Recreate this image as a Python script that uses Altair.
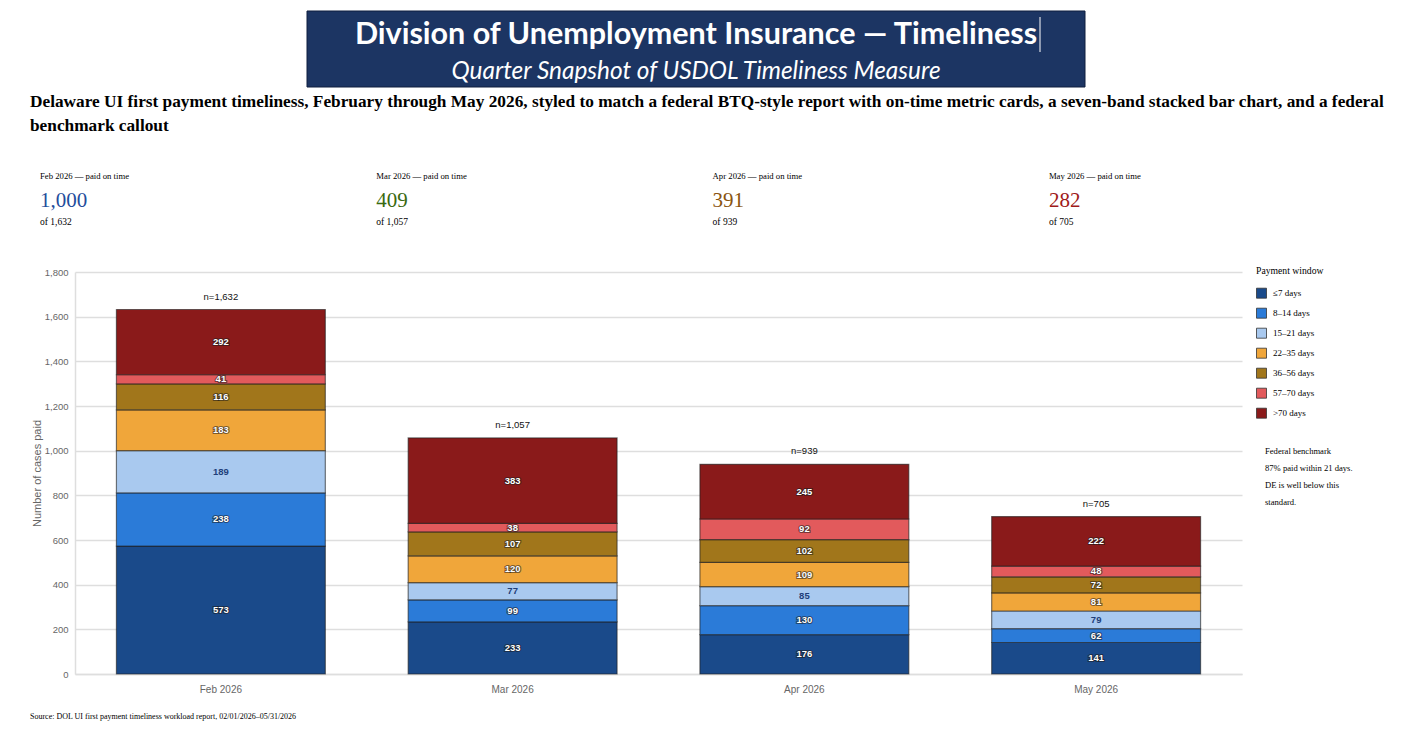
import altair as alt
import pandas as pd

# ---- data -------------------------------------------------------------
months = ["Feb 2026", "Mar 2026", "Apr 2026", "May 2026"]
bands = ["≤7 days", "8–14 days", "15–21 days", "22–35 days",
         "36–56 days", "57–70 days", ">70 days"]
feb_counts = [573, 238, 189, 183, 116, 41, 292]
mar_counts = [233, 99, 77, 120, 107, 38, 383]
apr_counts = [176, 130, 85, 109, 102, 92, 245]
may_counts = [141, 62, 79, 81, 72, 48, 222]
on_time_bands = 3  # ≤7, 8–14 and 15–21 days count as paid on time

heading = "Division of Unemployment Insurance — Timeliness"
subheading = "Quarter Snapshot of USDOL Timeliness Measure"
description = ("Delaware UI first payment timeliness, February through May 2026, styled to match a "
               "federal BTQ-style report with on-time metric cards, a seven-band stacked bar chart, "
               "and a federal\nbenchmark callout")
benchmark_note = "Federal benchmark\n87% paid within 21 days.\nDE is well below this\nstandard."
source_note = "Source: DOL UI first payment timeliness workload report, 02/01/2026–05/31/2026"

# ---- styles -----------------------------------------------------------
band_colors = ["#1a4a8a", "#2b7bd8", "#a9c9ef", "#f0a63a",
               "#a1761b", "#e25a5c", "#8a1a1a"]
card_colors = ["#1f4e9c", "#3a6a10", "#8a5510", "#a01a1a"]
SERIF = "Liberation Serif"
SANS = "Liberation Sans"
GRID = "#dedede"

# page-pixel origin of the plot area
OX, OY = 75, 272
W, H = 1167, 402

# ---- tables -----------------------------------------------------------
series = [feb_counts, mar_counts, apr_counts, may_counts]
rows = []
for month, counts in zip(months, series):
    running = 0
    for i, (band, v) in enumerate(zip(bands, counts)):
        rows.append({"month": month, "band": band, "order": i, "count": v,
                     "mid": running + v / 2})
        running += v
seg = pd.DataFrame(rows)

totals = pd.DataFrame({
    "month": months,
    "total": [sum(c) for c in series],
})
totals["label"] = totals["total"].map(lambda t: f"n={t:,}")

# ---- stacked bars -----------------------------------------------------
x_enc = alt.X("month:N", sort=months, title=None,
              scale=alt.Scale(paddingInner=0.284, paddingOuter=0.142),
              axis=alt.Axis(labelAngle=0, ticks=False, labelPadding=10,
                            labelFont=SANS, labelFontSize=10, labelColor="#666",
                            domainColor=GRID, domainWidth=1.5))
y_scale = alt.Scale(domain=[0, 1800], nice=False)

bars = alt.Chart(seg).mark_bar(stroke="#202020", strokeWidth=1.2, strokeOpacity=0.6).encode(
    x=x_enc,
    y=alt.Y("count:Q", stack="zero", scale=y_scale, title="Number of cases paid",
            axis=alt.Axis(values=list(range(0, 1801, 200)), format=",d", ticks=False,
                          labelFont=SANS, labelFontSize=9.5, labelColor="#666",
                          labelPadding=7, gridColor=GRID, gridWidth=1.5,
                          domainColor=GRID, domainWidth=1.5,
                          titleFont=SANS, titleFontSize=11, titleFontWeight="normal",
                          titleColor="#666", titlePadding=2)),
    color=alt.Color("band:N", sort=bands,
                    scale=alt.Scale(domain=bands, range=band_colors),
                    legend=alt.Legend(title="Payment window", orient="none",
                                      legendX=1256 - OX, legendY=266 - OY,
                                      titleFont=SERIF, titleFontSize=9.7,
                                      titleFontWeight="normal", titleColor="#000",
                                      titlePadding=12,
                                      labelFont=SERIF, labelFontSize=9, labelColor="#000",
                                      symbolType="square", symbolSize=100,
                                      symbolStrokeColor="#333", symbolStrokeWidth=0.8,
                                      rowPadding=5, labelOffset=6)),
    order=alt.Order("order:Q", sort="ascending"),
)

# value labels inside each segment: dark halo under white text
halo = alt.Chart(seg).transform_filter(alt.datum.band != "15–21 days").mark_text(
    font=SANS, fontSize=9.5, fontWeight="bold", color="#1a1a1a",
    stroke="#1a1a1a", strokeWidth=2.2, strokeOpacity=0.55, baseline="middle",
).encode(x=alt.X("month:N", sort=months), y=alt.Y("mid:Q", scale=y_scale), text="count:Q")

seg_labels = alt.Chart(seg).mark_text(
    font=SANS, fontSize=9.5, fontWeight="bold", baseline="middle",
).encode(
    x=alt.X("month:N", sort=months),
    y=alt.Y("mid:Q", scale=y_scale),
    text="count:Q",
    color=alt.condition(alt.datum.band == "15–21 days", alt.value("#1f3f7a"), alt.value("white")),
)

n_labels = alt.Chart(totals).mark_text(
    font=SANS, fontSize=9.5, color="#111", baseline="middle", dy=-13,
).encode(x=alt.X("month:N", sort=months), y=alt.Y("total:Q", scale=y_scale), text="label:N")


# ---- header, cards and notes -----------------------------------------
def note(text, px, py, **kw):
    """Free text placed at page pixel (px, py)."""
    kw.setdefault("align", "left")
    kw.setdefault("baseline", "middle")
    return alt.Chart(pd.DataFrame({"t": [text]})).mark_text(lineBreak="\n", **kw).encode(
        x=alt.value(px - OX), y=alt.value(py - OY), text="t:N")


banner = alt.Chart(pd.DataFrame({"t": [heading]})).mark_rect(
    color="#1c3563", stroke="#0e1f3f", strokeWidth=1).encode(
    x=alt.value(307 - OX), x2=alt.value(1085 - OX),
    y=alt.value(11 - OY), y2=alt.value(87 - OY))
caret = alt.Chart(pd.DataFrame({"t": [heading]})).mark_rule(color="white", strokeWidth=1).encode(
    x=alt.value(1040 - OX), y=alt.value(17 - OY), y2=alt.value(52 - OY))

layers = [
    banner,
    note(heading, 696, 35, align="center", font="Lato", fontSize=30.5,
         fontWeight="bold", color="white"),
    caret,
    note(subheading, 696, 72, align="center", font="Lato", fontSize=24.4,
         fontStyle="italic", color="white"),
    note(description, 30, 93, baseline="top", font=SERIF, fontSize=17.3,
         fontWeight="bold", color="#000", lineHeight=24),
]

card_step = 336.3
for i, (month, counts) in enumerate(zip(months, series)):
    cx = 40 + i * card_step
    on_time = sum(counts[:on_time_bands])
    total = sum(counts)
    layers += [
        note(f"{month} — paid on time", cx, 176, font=SERIF, fontSize=8.7, color="#000"),
        note(f"{on_time:,}", cx, 201, font=SERIF, fontSize=21, color=card_colors[i]),
        note(f"of {total:,}", cx, 222, font=SERIF, fontSize=9.5, color="#000"),
    ]

layers += [
    note(benchmark_note, 1265, 447, baseline="top", font=SERIF, fontSize=8.6,
         color="#000", lineHeight=17),
    note(source_note, 30, 717, font=SERIF, fontSize=8, color="#000"),
    bars, halo, seg_labels, n_labels,
]

chart = alt.layer(*layers).properties(
    width=W, height=H,
    padding={"left": OX, "top": OY, "right": 1401 - OX - W, "bottom": 730 - OY - H},
    autosize=alt.AutoSizeParams(type="none"),
    background="white",
).configure_view(stroke=None)

chart.save("out.html", embed_options={"renderer": "svg", "actions": False})
